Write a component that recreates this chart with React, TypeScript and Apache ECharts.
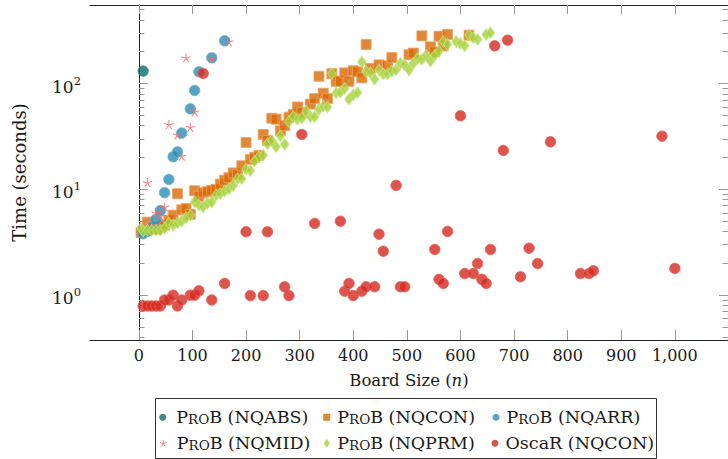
import React, { useEffect, useRef } from 'react';
import * as echarts from 'echarts';

const xTicks = [0, 100, 200, 300, 400, 500, 600, 700, 800, 900, 1000];
const yMajorTicks = [1, 10, 100];
const yMinorTicks = [0.4, 0.5, 0.6, 0.7, 0.8, 0.9, 2, 3, 4, 5, 6, 7, 8, 9, 20, 30, 40, 50, 60, 70, 80, 90, 200, 300, 400, 500];

const nqabs = [[8, 131]];

const nqcon = [
  [4, 3.9], [8, 4.0], [16, 4.9], [24, 4.3], [32, 4.2], [40, 4.4], [48, 4.6], [56, 5.1], [64, 5.7],
  [72, 9.1], [80, 6.4], [88, 6.6], [96, 5.8], [104, 9.7], [112, 8.6], [120, 9.3], [128, 9.5],
  [136, 9.8], [144, 10.0], [152, 11.2], [160, 12.2], [168, 12.9], [176, 14.3], [184, 13.9],
  [192, 16.7], [200, 27.7], [208, 19.2], [216, 20], [224, 21], [232, 33], [240, 29], [248, 47],
  [256, 46], [264, 35.7], [272, 40], [280, 48], [288, 51], [296, 60], [304, 53], [320, 64],
  [328, 72], [336, 117], [344, 81], [352, 72], [360, 124], [368, 105], [376, 105], [384, 126],
  [392, 105], [400, 132], [408, 129], [416, 113], [424, 234], [432, 139], [448, 150], [464, 147],
  [472, 176], [504, 187], [512, 194], [528, 282], [544, 222], [552, 199], [560, 280], [568, 227],
  [576, 291], [616, 286],
];

const nqarr = [
  [8, 3.8], [16, 4.0], [24, 4.4], [32, 5.2], [40, 6.3], [48, 9.3], [56, 12.4], [64, 20.3],
  [72, 22.6], [80, 34], [96, 57.6], [104, 86], [112, 129], [136, 175], [160, 253],
];

const nqmid = [
  [16, 11.6], [24, 4.6], [32, 6.0], [40, 5.6], [48, 6.8], [56, 41], [72, 32.7], [80, 20.6],
  [88, 175], [96, 38.5], [104, 54], [136, 172], [168, 248],
];

const nqprm = [
  [4, 4.3], [8, 4.0], [16, 4.1], [24, 4.1], [32, 4.1], [40, 4.1], [48, 4.3], [56, 4.8], [64, 4.6],
  [72, 4.8], [80, 5.0], [88, 5.4], [96, 5.7], [104, 7.6], [112, 7.1], [120, 6.8], [128, 7.4],
  [136, 7.6], [144, 8.8], [152, 9.1], [160, 9.6], [168, 10.1], [176, 10.8], [184, 12.6],
  [192, 12.6], [200, 15.5], [208, 15.0], [216, 18.5], [224, 20.3], [232, 21], [240, 27],
  [248, 29], [256, 25.3], [264, 32], [272, 26.6], [280, 43.6], [288, 49], [296, 46], [304, 47],
  [312, 55], [320, 48.5], [328, 48.5], [336, 57], [344, 61], [352, 60], [360, 124], [368, 81.5],
  [376, 83], [384, 90], [392, 71], [400, 78], [408, 82], [416, 160], [424, 130], [432, 126],
  [440, 110], [448, 134], [456, 123], [464, 123], [472, 131], [480, 135], [488, 155], [496, 150],
  [504, 134], [512, 155], [520, 172], [528, 169], [536, 185], [544, 163], [552, 185], [560, 203],
  [568, 250], [576, 234], [592, 250], [600, 239], [608, 227], [616, 287], [624, 270], [632, 261],
  [648, 290], [656, 301],
];

const oscar = [
  [8, 0.79], [16, 0.79], [24, 0.79], [32, 0.79], [40, 0.79], [48, 0.9], [56, 0.9], [64, 1.0],
  [72, 0.79], [80, 0.9], [96, 1.0], [104, 1.0], [112, 1.1], [120, 124.5], [136, 0.9], [160, 1.29],
  [200, 3.97], [208, 0.99], [232, 0.99], [240, 3.97], [272, 1.2], [280, 0.99], [304, 33],
  [328, 4.76], [376, 5.0], [384, 1.09], [392, 1.29], [400, 0.99], [416, 1.09], [424, 1.2],
  [440, 1.2], [448, 3.77], [456, 2.6], [480, 10.9], [488, 1.2], [496, 1.2], [552, 2.7],
  [560, 1.41], [568, 1.29], [576, 4.0], [600, 49.5], [608, 1.6], [624, 1.6], [632, 1.99],
  [640, 1.41], [648, 1.29], [656, 2.7], [664, 227], [680, 23.3], [688, 257], [712, 1.49],
  [728, 2.78], [744, 1.99], [768, 28.1], [824, 1.6], [840, 1.6], [848, 1.7], [976, 31.8],
  [1000, 1.79],
];

const names = ['ProB (NQABS)', 'ProB (NQCON)', 'ProB (NQARR)', 'ProB (NQMID)', 'ProB (NQPRM)', 'OscaR (NQCON)'];

const FONT = '"DejaVu Serif", "Liberation Serif", serif';
const TXT = '#1a1a1a';
const TICK = '#9a9a9a';
const STAR_PATH = 'path://M0,-10L0,0M9.51,-3.09L0,0M5.88,8.09L0,0M-5.88,8.09L0,0M-9.51,-3.09L0,0';

const X_MIN = -91.2;
const X_MAX = 1099.2;
const Y_MIN = 0.3767;
const Y_MAX = 552;

function buildOption() {
  const legendFmt = (n: string) => n.replace('ProB', 'P{sc|RO}B');
  const mkLegend = (
    name: string, cx: number, cy: number, iw: number, ih: number, padLeft: number, itemStyle: any, keep = true,
  ) => ({
    show: true,
    data: [name],
    left: cx - iw / 2,
    top: cy - 11,
    orient: 'horizontal',
    itemWidth: iw,
    itemHeight: ih,
    padding: 0,
    symbolKeepAspect: keep,
    selectedMode: false,
    formatter: legendFmt,
    textStyle: {
      fontFamily: FONT,
      fontSize: 17.5,
      color: TXT,
      lineHeight: 22,
      padding: [0, 0, 0, padLeft],
      rich: {
        sc: { fontFamily: FONT, fontSize: 13.5, color: TXT, padding: [3, 0, 0, 0] },
      },
    },
    itemStyle,
  });

  const yBase = {
    type: 'log',
    logBase: 10,
    min: Y_MIN,
    max: Y_MAX,
    splitLine: { show: false },
    minorTick: { show: false },
  };

  const R1 = 417.3;
  const R2 = 443.3;

  return {
    animation: false,
    backgroundColor: '#ffffff',
    grid: { left: 90, right: -4, top: 5, bottom: 119, containLabel: false },
    legend: [
      mkLegend(names[0], 162.7, R1, 7, 7, 5, { borderWidth: 0 }),
      mkLegend(names[1], 326.7, R1, 7, 7, 2, { borderWidth: 0 }),
      mkLegend(names[2], 496, R1, 7, 7, 2, { borderWidth: 0 }),
      mkLegend(names[3], 162.7, R2, 7, 7, 5, { borderWidth: 1, borderColor: '#ef6a6a', color: 'transparent' }),
      mkLegend(names[4], 326.7, R2, 6, 9, 2.5, { borderWidth: 0 }, false),
      mkLegend(names[5], 495, R2, 7, 7, 2, { borderWidth: 0 }),
    ],
    graphic: [
      {
        type: 'rect',
        shape: { x: 155.5, y: 398.5, width: 501, height: 60 },
        style: { fill: 'none', stroke: '#333333', lineWidth: 1 },
        silent: true,
      },
    ],
    xAxis: [
      {
        type: 'value',
        position: 'bottom',
        min: X_MIN,
        max: X_MAX,
        splitLine: { show: false },
        axisLine: { show: true, lineStyle: { color: '#222222', width: 1 } },
        axisTick: { show: true, inside: true, length: 10, customValues: xTicks, lineStyle: { color: TICK, width: 1 } },
        axisLabel: {
          customValues: xTicks,
          margin: 7,
          fontFamily: FONT,
          fontSize: 16,
          color: TXT,
          formatter: (v: number) => v.toLocaleString('en-US'),
        },
        name: 'Board Size ({i|n})',
        nameLocation: 'middle',
        nameGap: 32,
        nameTextStyle: {
          fontFamily: FONT,
          fontSize: 16.5,
          color: TXT,
          rich: { i: { fontFamily: FONT, fontSize: 16.5, fontStyle: 'italic', color: TXT } },
        },
      },
      {
        type: 'value',
        position: 'top',
        min: X_MIN,
        max: X_MAX,
        splitLine: { show: false },
        axisLine: { show: true, lineStyle: { color: '#222222', width: 1 } },
        axisTick: { show: true, inside: true, length: 9, customValues: xTicks, lineStyle: { color: TICK, width: 1 } },
        axisLabel: { show: false },
      },
    ],
    yAxis: [
      {
        ...yBase,
        position: 'left',
        axisLine: { show: true, lineStyle: { color: '#222222', width: 1 } },
        axisTick: { show: true, inside: true, length: 9, customValues: yMajorTicks, lineStyle: { color: TICK, width: 1 } },
        axisLabel: {
          customValues: yMajorTicks,
          margin: 9,
          fontFamily: FONT,
          fontSize: 17,
          color: TXT,
          lineHeight: 24,
          padding: [6, 0, 0, 0],
          formatter: (v: number) => '10{s|' + Math.round(Math.log10(v)) + '}',
          rich: { s: { fontFamily: FONT, fontSize: 11.5, color: TXT, verticalAlign: 'top', lineHeight: 12 } },
        },
        name: 'Time (seconds)',
        nameLocation: 'middle',
        nameGap: 62,
        nameTextStyle: { fontFamily: FONT, fontSize: 18, color: TXT },
      },
      {
        ...yBase,
        position: 'left',
        axisLine: { show: false },
        axisTick: { show: true, inside: true, length: 5.5, customValues: yMinorTicks, lineStyle: { color: TICK, width: 1 } },
        axisLabel: { show: false },
      },
      {
        ...yBase,
        position: 'right',
        axisLine: { show: false },
        axisTick: { show: true, inside: true, length: 9, customValues: yMajorTicks, lineStyle: { color: TICK, width: 1 } },
        axisLabel: { show: false },
      },
      {
        ...yBase,
        position: 'right',
        axisLine: { show: false },
        axisTick: { show: true, inside: true, length: 5.5, customValues: yMinorTicks, lineStyle: { color: TICK, width: 1 } },
        axisLabel: { show: false },
      },
    ],
    series: [
      {
        type: 'scatter', name: names[0], data: nqabs, symbol: 'circle', symbolSize: 10.5,
        itemStyle: { color: '#0b6b66', borderColor: '#3f8f8a', borderWidth: 1 },
        xAxisIndex: 0, yAxisIndex: 0, silent: true,
      },
      {
        type: 'scatter', name: names[1], data: nqcon, symbol: 'rect', symbolSize: 10,
        itemStyle: { color: '#d86a05', borderColor: '#f0a060', borderWidth: 1 },
        xAxisIndex: 0, yAxisIndex: 0, silent: true,
      },
      {
        type: 'scatter', name: names[2], data: nqarr, symbol: 'circle', symbolSize: 10.5,
        itemStyle: { color: '#2b8db5', borderColor: '#66b0ce', borderWidth: 1 },
        xAxisIndex: 0, yAxisIndex: 0, silent: true,
      },
      {
        type: 'scatter', name: names[3], data: nqmid, symbol: STAR_PATH, symbolSize: 9,
        itemStyle: { color: 'transparent', borderColor: '#ef6a6a', borderWidth: 1.1 },
        xAxisIndex: 0, yAxisIndex: 0, silent: true,
      },
      {
        type: 'scatter', name: names[4], data: nqprm, symbol: 'diamond', symbolSize: [8.5, 11.5],
        itemStyle: { color: '#a5d13a', borderColor: '#c6e47c', borderWidth: 1 },
        xAxisIndex: 0, yAxisIndex: 0, silent: true,
      },
      {
        type: 'scatter', name: names[5], data: oscar, symbol: 'circle', symbolSize: 10.5,
        itemStyle: { color: '#d5291f', borderColor: '#e65f57', borderWidth: 1 },
        xAxisIndex: 0, yAxisIndex: 0, silent: true,
      },
    ],
  };
}

export default function App() {
  const ref = useRef<HTMLDivElement>(null);
  useEffect(() => {
    if (!ref.current) return;
    const chart = echarts.init(ref.current, null, { renderer: 'svg' });
    chart.setOption(buildOption() as any);
    return () => chart.dispose();
  }, []);
  return (
    <div
      ref={ref}
      style={{ position: 'absolute', left: 0, top: 0, width: 728, height: 459, background: '#fff' }}
    />
  );
}
